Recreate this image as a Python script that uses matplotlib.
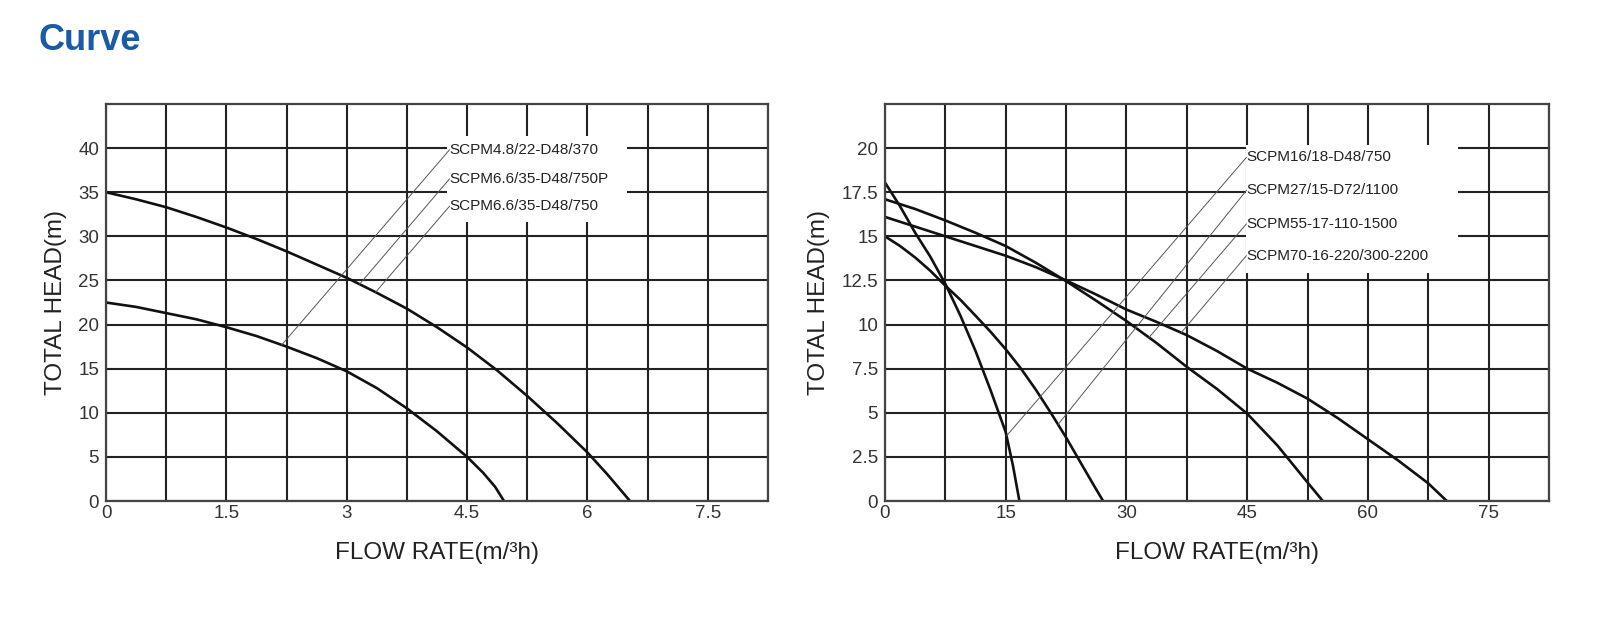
import numpy as np
import matplotlib.pyplot as plt
from matplotlib.patches import Rectangle
from matplotlib.ticker import MultipleLocator

plt.rcParams['font.family'] = ['Liberation Sans', 'DejaVu Sans']

# ---- left chart: small pumps (flow m3/h, head m) ----
left_models = ['SCPM4.8/22-D48/370', 'SCPM6.6/35-D48/750P', 'SCPM6.6/35-D48/750']
q_small = [0, 0.375, 0.75, 1.125, 1.5, 1.875, 2.25, 2.625, 3.0, 3.375, 3.75,
           4.125, 4.5, 4.7, 4.85, 4.96]
h_small = [22.5, 22.0, 21.3, 20.6, 19.7, 18.7, 17.5, 16.2, 14.7, 12.8, 10.5,
           7.9, 5.0, 3.2, 1.6, 0]
q_big = [0, 0.375, 0.75, 1.125, 1.5, 1.875, 2.25, 2.625, 3.0, 3.375, 3.75,
         4.125, 4.5, 4.875, 5.25, 5.625, 6.0, 6.25, 6.53]
h_big = [35, 34.2, 33.3, 32.2, 31.0, 29.7, 28.3, 26.8, 25.3, 23.6, 21.8,
         19.7, 17.4, 14.8, 11.9, 8.8, 5.5, 3.0, 0]
left_curve_of_label = [0, 1, 1]
left_label_x = 4.28
left_label_y = [39.8, 36.5, 33.4]
left_hit_q = [2.19, 3.16, 3.36]

# ---- right chart: large pumps ----
right_models = ['SCPM16/18-D48/750', 'SCPM27/15-D72/1100',
                'SCPM55-17-110-1500', 'SCPM70-16-220/300-2200']
q_16 = [0, 1.875, 3.75, 5.625, 7.5, 9.375, 11.25, 13.1, 15, 15.9, 16.7]
h_16 = [18.05, 16.7, 15.2, 13.85, 12.3, 10.5, 8.5, 6.3, 3.9, 2.0, 0]
q_27 = [0, 1.875, 3.75, 5.625, 7.5, 9.375, 11.25, 13.1, 15, 16.9, 18.75,
        20.6, 22.5, 24.4, 25.8, 27.1]
h_27 = [15.0, 14.45, 13.8, 13.05, 12.2, 11.4, 10.5, 9.6, 8.6, 7.5, 6.3,
        5.0, 3.6, 2.1, 1.0, 0]
q_55 = [0, 3.75, 7.5, 11.25, 15, 18.75, 22.5, 26.25, 30, 33.75, 37.5, 41.25,
        45, 48.75, 52.5, 54.4]
h_55 = [17.1, 16.55, 15.9, 15.2, 14.45, 13.5, 12.46, 11.35, 10.2, 8.95, 7.6,
        6.35, 4.95, 3.15, 1.05, 0]
q_70 = [0, 3.75, 7.5, 11.25, 15, 18.75, 22.5, 26.25, 30, 33.75, 37.5, 41.25,
        45, 48.75, 52.5, 56.25, 60, 63.75, 67.5, 69.8]
h_70 = [16.1, 15.55, 15.0, 14.45, 13.9, 13.25, 12.5, 11.7, 10.85, 10.15, 9.4,
        8.5, 7.5, 6.7, 5.8, 4.7, 3.5, 2.3, 1.0, 0]
right_curve_of_label = [0, 1, 2, 3]
right_label_x = 44.9
right_label_y = [19.47, 17.6, 15.7, 13.9]
right_hit_q = [15.1, 21.5, 32.8, 36.8]

ink = '#222222'


def draw_chart(ax, curves, models, curve_of_label, label_x, label_y, hit_q,
               xmax, xlab_step, xgrid_step, ymax, ystep, box):
    ax.set_xlim(0, xmax)
    ax.set_ylim(0, ymax)
    ax.xaxis.set_minor_locator(MultipleLocator(xgrid_step))
    xt = np.arange(0, xmax, xlab_step)
    yt = np.arange(0, ymax, ystep)
    ax.set_xticks(xt)
    ax.set_yticks(yt)
    ax.set_xticklabels(['%g' % t for t in xt])
    ax.set_yticklabels(['%g' % t for t in yt])
    ax.set_axisbelow(True)
    ax.grid(which='both', color=ink, lw=1.5)
    ax.tick_params(which='both', length=0, labelsize=13.5, colors='#333333')
    ax.tick_params(axis='x', pad=3)
    ax.tick_params(axis='y', pad=5)
    for s in ax.spines.values():
        s.set_color('#444444')
        s.set_linewidth(1.6)

    # white patch behind the model names
    ax.add_patch(Rectangle((box[0], box[2]), box[1] - box[0], box[3] - box[2],
                           facecolor='white', edgecolor='none', zorder=1))

    for q, h in curves:
        ax.plot(q, h, color='#111111', lw=1.9, zorder=2,
                solid_capstyle='round', solid_joinstyle='round')

    for i, name in enumerate(models):
        q, h = curves[curve_of_label[i]]
        hy = np.interp(hit_q[i], q, h)
        ax.plot([hit_q[i], label_x], [hy, label_y[i]], color='#555555', lw=0.7, zorder=2)
        ax.text(label_x, label_y[i], name, fontsize=11, color=ink,
                ha='left', va='center', zorder=3)

    ax.set_xlabel('FLOW RATE(m/\u00b3h)', fontsize=17.5, color=ink, labelpad=14)
    ax.set_ylabel('TOTAL HEAD(m)', fontsize=17.5, color=ink, labelpad=8)


fig = plt.figure(figsize=(16, 6.21), dpi=100)
fig.text(39 / 1600, 1 - 41 / 621, 'Curve', fontsize=26, fontweight='bold',
         color='#1b5aa5', ha='left', va='center')

ax1 = fig.add_axes([106 / 1600, 120 / 621, 662 / 1600, 397 / 621])
draw_chart(ax1, [(q_small, h_small), (q_big, h_big)], left_models,
           left_curve_of_label, left_label_x, left_label_y, left_hit_q,
           8.25, 1.5, 0.75, 45, 5, (4.25, 6.49, 31.6, 41.4))

ax2 = fig.add_axes([885 / 1600, 120 / 621, 664 / 1600, 397 / 621])
draw_chart(ax2, [(q_16, h_16), (q_27, h_27), (q_55, h_55), (q_70, h_70)],
           right_models, right_curve_of_label, right_label_x, right_label_y,
           right_hit_q, 82.5, 15, 7.5, 22.5, 2.5, (44.8, 71.2, 12.95, 20.2))

fig.savefig('out.png', dpi=100)
